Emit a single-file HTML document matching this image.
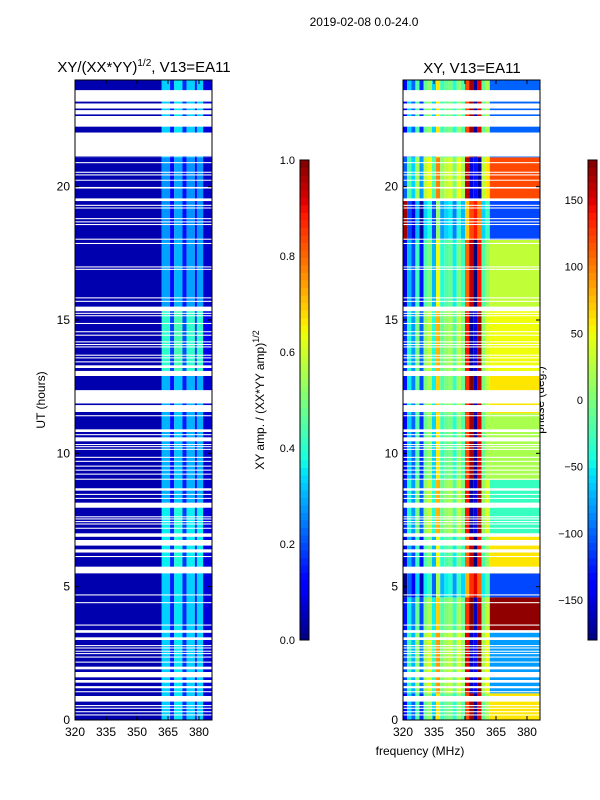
<!DOCTYPE html>
<html><head><meta charset="utf-8"><style>
html,body{margin:0;padding:0;background:#fff;}
svg{display:block;font-family:"Liberation Sans","DejaVu Sans",sans-serif;}
</style></head><body>
<svg id="fig" width="600" height="800" viewBox="0 0 600 800">
<text x="364" y="26" font-size="12" text-anchor="middle">2019-02-08 0.0-24.0</text>
<text x="144" y="72" font-size="15" text-anchor="middle">XY/(XX*YY)<tspan font-size="10" dy="-6">1/2</tspan><tspan dy="6">, V13=EA11</tspan></text>
<text x="472" y="73" font-size="15" text-anchor="middle">XY, V13=EA11</text>
<text transform="translate(45,400) rotate(-90)" font-size="12" text-anchor="middle">UT (hours)</text>
<text x="420" y="755" font-size="12" text-anchor="middle">frequency (MHz)</text>
<text transform="translate(264,400) rotate(-90)" font-size="12" text-anchor="middle">XY amp. / (XX*YY amp)<tspan font-size="9" dy="-5">1/2</tspan></text>
<text transform="translate(544,400) rotate(-90)" font-size="12" text-anchor="middle">phase (deg.)</text>
<g id="left"></g>
<g id="right"></g>
<g id="axes"></g>
</svg>
<script>
// ---- data ----
const gaps = [[23.62,23.19],[23.12,22.93],[22.87,22.71],[22.65,22.25],[22.03,21.13],[20.92,20.88],[20.56,20.52],[20.46,20.42],[20.26,20.24],[19.99,19.93],[19.56,19.46],[19.32,19.28],[19.22,19.18],[18.82,18.78],[18.70,18.66],[18.60,18.56],[18.05,18.01],[17.89,17.85],[17.01,16.97],[16.92,16.88],[15.85,15.81],[15.72,15.68],[15.5,15.33],[15.27,15.23],[15.18,15.14],[14.89,14.85],[14.58,14.54],[14.45,14.41],[14.2,14.16],[14.1,14.06],[14.01,13.97],[13.7,13.66],[13.6,13.56],[13.45,13.41],[13.3,13.2],[13.09,12.9],[12.37,11.87],[11.81,11.55],[11.43,11.39],[10.9,10.8],[10.72,10.68],[10.6,10.45],[10.35,10.31],[10.27,10.23],[10.17,10.13],[9.87,9.83],[9.72,9.68],[9.54,9.5],[9.39,9.35],[9.24,9.2],[9.05,9.01],[8.69,8.6],[8.48,8.44],[8.33,8.29],[8.15,7.96],[7.64,7.6],[7.56,7.52],[7.46,7.42],[7.37,7.33],[7.21,7.17],[7.0,6.87],[6.75,6.54],[6.4,6.28],[6.15,6.11],[5.75,5.5],[4.71,4.67],[4.42,4.38],[3.58,3.54],[3.37,3.27],[3.1,3.0],[2.81,2.77],[2.72,2.68],[2.6,2.56],[2.51,2.47],[2.38,2.34],[2.19,2.15],[2.0,1.9],[1.8,1.6],[1.5,1.4],[1.27,1.19],[1.08,1.04],[0.9,0.69],[0.56,0.52],[0.46,0.42],[0.33,0.29],[0.21,0.17]];
const ampBandStart = [320,362,366,368,372,374,378,379,382];
const ampBandEnd   = [362,366,368,372,374,378,379,382,386.5];
const ampBandValue = [0.04,0.30,0.14,0.32,0.15,0.30,0.14,0.30,0.07];
const ampRowStart = [0,3.0,5.5,8.0,12.9,15.5,18.0,21.1];
const ampRowEnd   = [3.0,5.5,8.0,12.9,15.5,18.0,21.1,24];
const ampRowGain  = [1.1,1.1,1.2,1.0,1.35,0.95,0.9,1.1];
const phaseColFreq = [320,322,324,326,328,330,332,334,336,338,340,342,344,346,348,350,352,354,356,358,360];
const phaseColValue= [-140,-60,-100,-20,-120,-10,10,-60,60,-30,-10,0,-40,10,-20,120,170,-170,150,-10,20];
const phaseRowStart = [0,1.0,3.3,4.6,5.5,7.0,9.0,11.5,13.0,15.5,18.0,19.5,21.1];
const phaseRowEnd   = [1.0,3.3,4.6,5.5,7.0,9.0,11.5,13.0,15.5,18.0,19.5,21.1,24];
const phaseRowOffset= [0,30,10,-40,-10,20,0,10,20,-10,-50,40,0];
const phaseRowSmooth= [60,-80,175,-110,60,-30,20,60,50,30,-110,120,-100];
const ampTicks = [0.0,0.2,0.4,0.6,0.8,1.0];
const phaseTicks = [150,100,50,0,-50,-100,-150];
const yTicks = [0,5,10,15,20];
const xTicks = [320,335,350,365,380];

// ---- axes functions ----
const NS="http://www.w3.org/2000/svg";
const L={x0:75,x1:212}, R={x0:403,x1:540}, Y0=720, Y1=80;
const fmin=320, fmax=386.3;
function xs(p,f){return p.x0+(f-fmin)/(fmax-fmin)*(p.x1-p.x0);}
function ys(h){return Y0-(h)/24*(Y0-Y1);}
function jet(v){v=Math.max(0,Math.min(1,v));
 function interp(pts){for(let i=1;i<pts.length;i++){if(v<=pts[i][0]){const a=pts[i-1],b=pts[i];return a[1]+(b[1]-a[1])*(v-a[0])/(b[0]-a[0]);}}return pts[pts.length-1][1];}
 const r=interp([[0,0],[0.35,0],[0.66,1],[0.89,1],[1,0.5]]);
 const g=interp([[0,0],[0.125,0],[0.375,1],[0.64,1],[0.91,0],[1,0]]);
 const b=interp([[0,0.5],[0.11,1],[0.34,1],[0.65,0],[1,0]]);
 return `rgb(${Math.round(r*255)},${Math.round(g*255)},${Math.round(b*255)})`;}
function wrap(p){while(p>180)p-=360;while(p<-180)p+=360;return p;}
function rect(parent,x,y,w,h,fill,name){const r=document.createElementNS(NS,'rect');
 r.setAttribute('x',x);r.setAttribute('y',y);r.setAttribute('width',w);r.setAttribute('height',h);r.setAttribute('fill',fill);
 
 
 parent.appendChild(r);return r;}
function text(parent,x,y,s,anchor,name,size){const t=document.createElementNS(NS,'text');
 t.setAttribute('x',x);t.setAttribute('y',y);t.setAttribute('font-size',size||12);t.setAttribute('text-anchor',anchor);t.textContent=s;
 
 
 parent.appendChild(t);}
function line(parent,x1,y1,x2,y2,name,w){const l=document.createElementNS(NS,'line');
 l.setAttribute('x1',x1);l.setAttribute('y1',y1);l.setAttribute('x2',x2);l.setAttribute('y2',y2);l.setAttribute('stroke','#000');l.setAttribute('stroke-width',w||1);
 
 
 parent.appendChild(l);}

const gl=document.getElementById('left'), gr=document.getElementById('right'), ga=document.getElementById('axes');
for(let r=0;r<ampRowStart.length;r++){
 for(let b=0;b<ampBandStart.length;b++){
  const v=ampBandValue[b]*(b===0?1:ampRowGain[r]);
  const x=xs(L,ampBandStart[b]), w=xs(L,ampBandEnd[b])-x;
  rect(gl,x,ys(ampRowEnd[r]),w,ys(ampRowStart[r])-ys(ampRowEnd[r]),jet(v),'amp-cell');
 }}
for(let r=0;r<phaseRowStart.length;r++){
 const yT=ys(phaseRowEnd[r]), h=ys(phaseRowStart[r])-yT;
 for(let c=0;c<phaseColFreq.length;c++){
  const f0=phaseColFreq[c], f1=f0+2;
  const p=wrap(phaseColValue[c]+phaseRowOffset[r]);
  const x=xs(R,f0);
  rect(gr,x,yT,xs(R,f1)-x,h,jet((p+180)/360),'phase-cell');
 }
 const xs0=xs(R,362);
 rect(gr,xs0,yT,R.x1-xs0,h,jet((phaseRowSmooth[r]+180)/360),'phase-cell');
}
for(const g of gaps){
 const yT=ys(g[0]), h=Math.max(1,ys(g[1])-yT);
 rect(gl,L.x0,yT,L.x1-L.x0,h,'#fff','flagged-row');
 rect(gr,R.x0,yT,R.x1-R.x0,h,'#fff','flagged-row');
}
for(const P of [L,R]){
 const fr=document.createElementNS(NS,'rect');
 fr.setAttribute('x',P.x0);fr.setAttribute('y',Y1);fr.setAttribute('width',P.x1-P.x0);fr.setAttribute('height',Y0-Y1);
 fr.setAttribute('fill','none');fr.setAttribute('stroke','#000');
 
 
 ga.appendChild(fr);
 for(const t of yTicks){const y=ys(t);line(ga,P.x0,y,P.x0+4,y,'y-tick');line(ga,P.x1,y,P.x1-4,y,'y-tick');
  text(ga,P.x0-5,y+4,String(t),'end','y-tick-label');}
 for(const t of xTicks){const x=xs(P,t);line(ga,x,Y0,x,Y0-4,'x-tick');line(ga,x,Y1,x,Y1+4,'x-tick');
  text(ga,x,Y0+16,String(t),'middle','x-tick-label');}
}
const CB1={x:300,w:9}, CB2={x:588,w:9}, CT=160, CBt=640, N=64;
for(let i=0;i<N;i++){const y=CBt-(i+1)*(CBt-CT)/N, h=(CBt-CT)/N+0.5;
 rect(ga,CB1.x,y,CB1.w,h,jet((i+0.5)/N),'amp-colorbar-step');
 rect(ga,CB2.x,y,CB2.w,h,jet((i+0.5)/N),'phase-colorbar-step');}
for(const C of [CB1,CB2]){const fr=document.createElementNS(NS,'rect');
 fr.setAttribute('x',C.x);fr.setAttribute('y',CT);fr.setAttribute('width',C.w);fr.setAttribute('height',CBt-CT);
 fr.setAttribute('fill','none');fr.setAttribute('stroke','#000');
 
 
 ga.appendChild(fr);}
for(const t of ampTicks){const y=CBt-t*(CBt-CT);text(ga,CB1.x-5,y+4,t.toFixed(1),'end','amp-colorbar-tick',11);}
for(const t of phaseTicks){const y=CBt-(t+180)/360*(CBt-CT);text(ga,CB2.x-5,y+4,t<0?'\u2212'+(-t):String(t),'end','phase-colorbar-tick',11);}
</script>
</body></html>
